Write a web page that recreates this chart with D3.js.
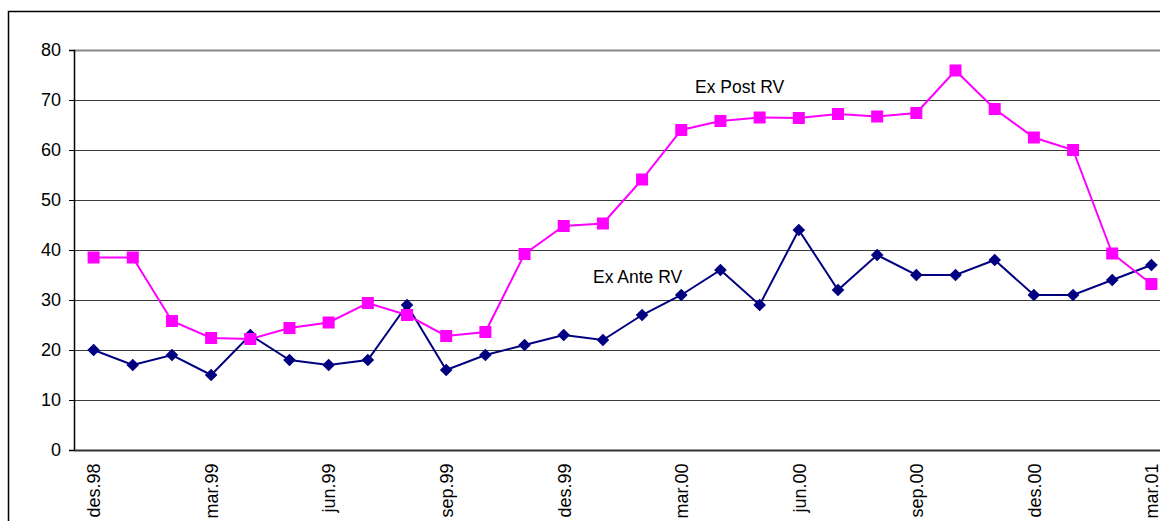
<!DOCTYPE html>
<html>
<head>
<meta charset="utf-8">
<script src="https://cdn.jsdelivr.net/npm/d3@7"></script>
<style>
  html, body { margin: 0; padding: 0; background: #fff; overflow: hidden; }
  svg { display: block; font-family: "Liberation Sans", Arial, sans-serif; }
</style>
</head>
<body>
<svg id="chart" width="1160" height="521"></svg>
<script>
// Monthly observations, des.98 .. mar.01
const months = [
  "des.98","jan.99","feb.99","mar.99","apr.99","mai.99","jun.99","jul.99","aug.99","sep.99",
  "okt.99","nov.99","des.99","jan.00","feb.00","mar.00","apr.00","mai.00","jun.00","jul.00",
  "aug.00","sep.00","okt.00","nov.00","des.00","jan.01","feb.01","mar.01"
];
const exAnteRV = [20, 17, 19, 15, 23, 18, 17, 18, 29, 16, 19, 21, 23, 22, 27, 31, 36, 29, 44, 32, 39, 35, 35, 38, 31, 31, 34, 37];
const exPostRV = [38.5, 38.5, 25.8, 22.4, 22.2, 24.4, 25.5, 29.4, 27, 22.8, 23.6, 39.2, 44.8, 45.3, 54.1, 64, 65.8, 66.5, 66.4, 67.2, 66.7, 67.4, 75.9, 68.2, 62.5, 60, 39.3, 33.2];
const tickLabels = ["des.98","mar.99","jun.99","sep.99","des.99","mar.00","jun.00","sep.00","des.00","mar.01"];
const yTicks = [0, 10, 20, 30, 40, 50, 60, 70, 80];

const svg = d3.select("#chart");

// outer chart frame
svg.append("rect")
  .attr("x", 8.5).attr("y", 11.5)
  .attr("width", 1300).attr("height", 700)
  .attr("fill", "none").attr("stroke", "#000").attr("stroke-width", 1.5);

const plot = { left: 74, top: 50, bottom: 450, right: 1171 };

const x = d3.scalePoint()
  .domain(months)
  .range([plot.left, plot.right])
  .padding(0.5);

const y = d3.scaleLinear().domain([0, 80]).range([plot.bottom, plot.top]);

// horizontal gridlines
svg.append("g")
  .selectAll("line")
  .data(yTicks.filter(d => d > 0))
  .join("line")
  .attr("x1", plot.left).attr("x2", 1160)
  .attr("y1", d => y(d) + 0.5).attr("y2", d => y(d) + 0.5)
  .attr("stroke", d => d === 80 ? "#888" : "#3a3a3a")
  .attr("stroke-width", d => d === 80 ? 2 : 1);

// y axis
const yAxis = svg.append("g")
  .attr("transform", `translate(${plot.left},0)`)
  .call(d3.axisLeft(y).tickValues(yTicks).tickSize(5).tickPadding(8));
yAxis.select(".domain").attr("stroke", "#000").attr("stroke-width", 1.5);
yAxis.selectAll(".tick line").attr("stroke", "#000");
yAxis.selectAll(".tick text")
  .attr("font-size", 18)
  .attr("font-family", "'Liberation Sans', Arial, sans-serif")
  .attr("fill", "#000");

// x axis
const xAxis = svg.append("g")
  .attr("transform", `translate(0,${plot.bottom})`)
  .call(d3.axisBottom(x).tickValues(tickLabels).tickSize(0).tickSizeOuter(0));
xAxis.select(".domain").attr("stroke", "#333").attr("stroke-width", 2);
xAxis.selectAll(".tick text")
  .attr("font-size", 18)
  .attr("font-family", "'Liberation Sans', Arial, sans-serif")
  .attr("fill", "#000")
  .attr("transform", "rotate(-90)")
  .attr("text-anchor", "end")
  .attr("dx", "-0.75em")
  .attr("dy", "0.35em")
  .attr("y", 0);

const line = d3.line()
  .x((d, i) => x(months[i]))
  .y(d => y(d));

// Ex Ante RV series: navy line with diamonds
svg.append("path")
  .datum(exAnteRV)
  .attr("d", line)
  .attr("fill", "none")
  .attr("stroke", "#000080")
  .attr("stroke-width", 2);
svg.append("g")
  .selectAll("path")
  .data(exAnteRV)
  .join("path")
  .attr("d", d3.symbol(d3.symbolSquare, 80))
  .attr("transform", (d, i) => `translate(${x(months[i])},${y(d)}) rotate(45)`)
  .attr("fill", "#000080");

// Ex Post RV series: magenta line with squares
svg.append("path")
  .datum(exPostRV)
  .attr("d", line)
  .attr("fill", "none")
  .attr("stroke", "#FF00FF")
  .attr("stroke-width", 2);
svg.append("g")
  .selectAll("rect")
  .data(exPostRV)
  .join("rect")
  .attr("x", (d, i) => x(months[i]) - 6)
  .attr("y", d => y(d) - 6)
  .attr("width", 12).attr("height", 12)
  .attr("fill", "#FF00FF");

// series labels
svg.append("text")
  .attr("x", 695).attr("y", 93)
  .attr("font-size", 17.5)
  .attr("fill", "#000")
  .text("Ex Post RV");
svg.append("text")
  .attr("x", 593).attr("y", 283)
  .attr("font-size", 17.5)
  .attr("fill", "#000")
  .text("Ex Ante RV");
</script>
</body>
</html>
